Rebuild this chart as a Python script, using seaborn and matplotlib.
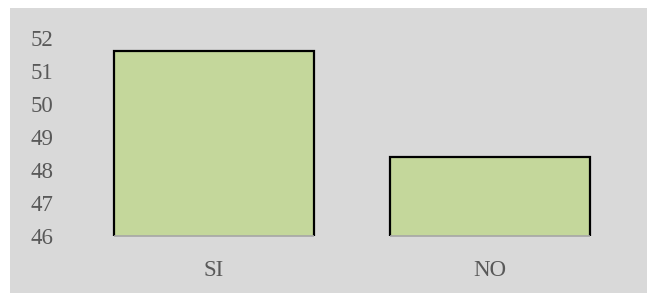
import matplotlib
matplotlib.use("Agg")
import matplotlib.pyplot as plt
import seaborn as sns
from matplotlib.patches import Rectangle

# datos
categorias = ["SI", "NO"]
valores = [51.6, 48.4]
ticks_y = [46, 47, 48, 49, 50, 51, 52]

sns.set_style("white")
plt.rcParams["font.family"] = ["Liberation Serif", "DejaVu Serif"]

gris = "#d9d9d9"
verde = "#c4d79b"
texto = "#595959"

fig = plt.figure(figsize=(6.47, 2.93), dpi=100, facecolor="white")

# fondo gris del grafico
fig.patches.append(Rectangle((10 / 647, 0), 1 - 10 / 647, 1 - 8 / 293,
                             transform=fig.transFigure, facecolor=gris,
                             edgecolor="none", zorder=-10))

ax = fig.add_axes([76 / 647, 57 / 293, 552 / 647, (236 - 38) / 293])
ax.set_facecolor(gris)
ax.set_zorder(5)

sns.barplot(x=categorias, y=valores, color=verde, edgecolor="black",
            linewidth=1.6, width=0.725, saturation=1, ax=ax)

ax.set_xlim(-0.5, 1.5)
ax.set_ylim(46, 52)
ax.set_yticks(ticks_y)
ax.set_yticklabels([str(t) for t in ticks_y])

# linea gris bajo cada barra
for p in ax.patches:
    ax.hlines(46, p.get_x(), p.get_x() + p.get_width(), color="#a6a6a6",
              linewidth=1.2, clip_on=False, zorder=1)

for s in ax.spines.values():
    s.set_visible(False)

ax.tick_params(axis="y", length=0, pad=16.5, labelsize=16.5, labelcolor=texto)
ax.tick_params(axis="x", length=0, pad=17, labelsize=16.5, labelcolor=texto)
ax.set_xlabel("")
ax.set_ylabel("")

fig.savefig("out.png", dpi=100, facecolor="white")
